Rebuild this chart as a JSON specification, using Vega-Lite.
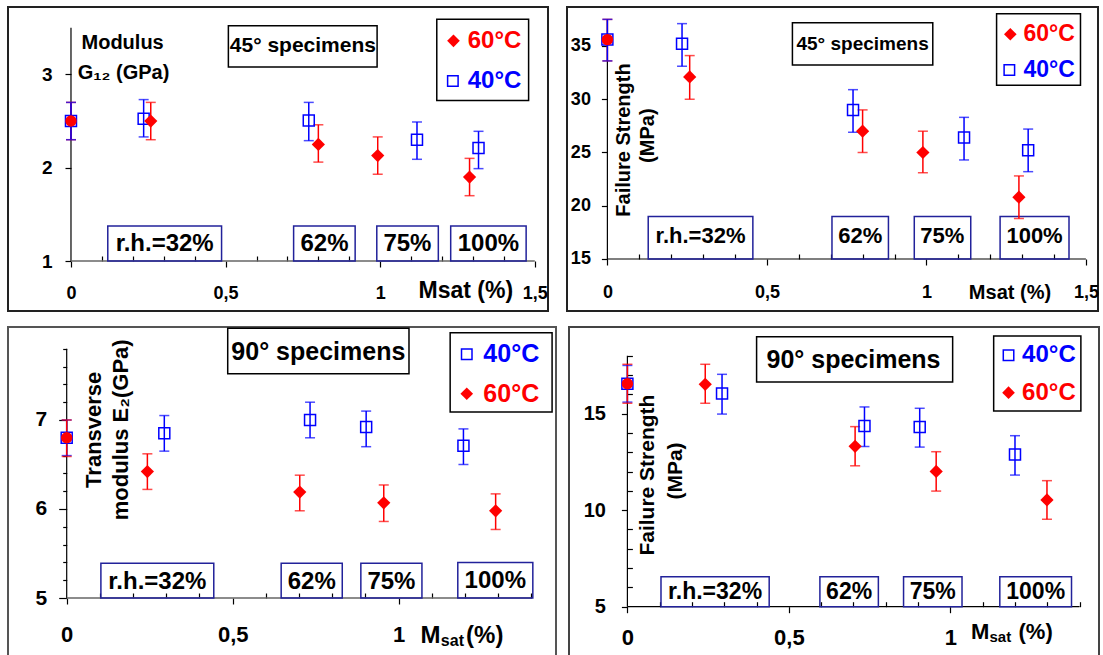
{
"$schema": "https://vega.github.io/schema/vega-lite/v6.json",
"background": "white",
"padding": {"left": 7, "top": 6, "right": 0, "bottom": 0},
"config": {
  "font": "Liberation Sans",
  "view": {"stroke": "#222", "strokeWidth": 2},
  "axis": {"grid": false, "domain": false, "labelFont": "Liberation Sans", "labelFontWeight": "bold", "labelColor": "#000", "tickColor": "#000", "tickWidth": 1.2, "labelFlush": false}
},
"datasets": {
  "tl": [
    {"msat": 0, "value": 2.5, "lo": 2.3, "hi": 2.7, "temp": "60°C"},
    {"msat": 0.258, "value": 2.5, "lo": 2.3, "hi": 2.7, "temp": "60°C"},
    {"msat": 0.8, "value": 2.25, "lo": 2.06, "hi": 2.46, "temp": "60°C"},
    {"msat": 0.992, "value": 2.13, "lo": 1.93, "hi": 2.33, "temp": "60°C"},
    {"msat": 1.289, "value": 1.9, "lo": 1.7, "hi": 2.1, "temp": "60°C"},
    {"msat": 0, "value": 2.5, "lo": 2.3, "hi": 2.7, "temp": "40°C"},
    {"msat": 0.235, "value": 2.525, "lo": 2.33, "hi": 2.73, "temp": "40°C"},
    {"msat": 0.769, "value": 2.507, "lo": 2.29, "hi": 2.7, "temp": "40°C"},
    {"msat": 1.119, "value": 2.3, "lo": 2.09, "hi": 2.49, "temp": "40°C"},
    {"msat": 1.318, "value": 2.21, "lo": 1.99, "hi": 2.39, "temp": "40°C"}
  ],
  "tr": [
    {"msat": 0, "value": 35.6, "lo": 33.6, "hi": 37.5, "temp": "60°C"},
    {"msat": 0.258, "value": 32.1, "lo": 30.0, "hi": 34.1, "temp": "60°C"},
    {"msat": 0.8, "value": 27.0, "lo": 25.0, "hi": 29.0, "temp": "60°C"},
    {"msat": 0.989, "value": 25.0, "lo": 23.1, "hi": 27.0, "temp": "60°C"},
    {"msat": 1.29, "value": 20.8, "lo": 18.8, "hi": 22.8, "temp": "60°C"},
    {"msat": 0, "value": 35.6, "lo": 33.6, "hi": 37.5, "temp": "40°C"},
    {"msat": 0.234, "value": 35.2, "lo": 33.1, "hi": 37.1, "temp": "40°C"},
    {"msat": 0.77, "value": 29.0, "lo": 26.9, "hi": 30.9, "temp": "40°C"},
    {"msat": 1.118, "value": 26.4, "lo": 24.3, "hi": 28.3, "temp": "40°C"},
    {"msat": 1.319, "value": 25.2, "lo": 23.2, "hi": 27.2, "temp": "40°C"}
  ],
  "bl": [
    {"msat": 0, "value": 6.8, "lo": 6.6, "hi": 7.0, "temp": "40°C"},
    {"msat": 0.294, "value": 6.85, "lo": 6.65, "hi": 7.05, "temp": "40°C"},
    {"msat": 0.733, "value": 7.0, "lo": 6.8, "hi": 7.2, "temp": "40°C"},
    {"msat": 0.902, "value": 6.92, "lo": 6.7, "hi": 7.1, "temp": "40°C"},
    {"msat": 1.195, "value": 6.71, "lo": 6.5, "hi": 6.9, "temp": "40°C"},
    {"msat": 0, "value": 6.8, "lo": 6.59, "hi": 7.0, "temp": "60°C"},
    {"msat": 0.243, "value": 6.42, "lo": 6.22, "hi": 6.62, "temp": "60°C"},
    {"msat": 0.702, "value": 6.19, "lo": 5.98, "hi": 6.38, "temp": "60°C"},
    {"msat": 0.955, "value": 6.07, "lo": 5.86, "hi": 6.27, "temp": "60°C"},
    {"msat": 1.292, "value": 5.98, "lo": 5.77, "hi": 6.17, "temp": "60°C"}
  ],
  "br": [
    {"msat": 0, "value": 16.55, "lo": 15.6, "hi": 17.5, "temp": "40°C"},
    {"msat": 0.293, "value": 16.04, "lo": 14.98, "hi": 17.04, "temp": "40°C"},
    {"msat": 0.734, "value": 14.36, "lo": 13.3, "hi": 15.35, "temp": "40°C"},
    {"msat": 0.905, "value": 14.31, "lo": 13.27, "hi": 15.28, "temp": "40°C"},
    {"msat": 1.2, "value": 12.88, "lo": 11.82, "hi": 13.86, "temp": "40°C"},
    {"msat": 0, "value": 16.55, "lo": 15.54, "hi": 17.56, "temp": "60°C"},
    {"msat": 0.241, "value": 16.52, "lo": 15.54, "hi": 17.56, "temp": "60°C"},
    {"msat": 0.705, "value": 13.31, "lo": 12.3, "hi": 14.33, "temp": "60°C"},
    {"msat": 0.956, "value": 12.01, "lo": 10.99, "hi": 13.03, "temp": "60°C"},
    {"msat": 1.299, "value": 10.53, "lo": 9.53, "hi": 11.53, "temp": "60°C"}
  ]
},
"spacing": 14,
"vconcat": [
{
"hconcat": [
{
  "width": 540, "height": 304,
  "data": {"name": "tl"},
  "resolve": {"axis": {"x": "independent", "y": "independent"}},
  "layer": [
    {"data": {"values": [{}]}, "layer": [
      {"mark": {"type": "rule", "color": "#000", "strokeWidth": 1.2}, "encoding": {"x": {"datum": 0, "axis": null}, "y": {"datum": 1, "axis": null}, "y2": {"datum": 3.5}}},
      {"mark": {"type": "rule", "color": "#666", "strokeWidth": 1.5}, "encoding": {"x": {"datum": 0}, "x2": {"datum": 1.5}, "y": {"datum": 1}}},
      {"mark": {"type": "rect", "fillOpacity": 0, "stroke": "#000", "strokeWidth": 1.5}, "encoding": {"x": {"datum": 0.509}, "x2": {"datum": 0.99}, "y": {"datum": 3.079}, "y2": {"datum": 3.522}}},
      {"mark": {"type": "text", "text": "45° specimens", "fontSize": 21, "fontWeight": "bold", "color": "#000", "align": "center", "baseline": "middle"}, "encoding": {"x": {"datum": 0.75}, "y": {"datum": 3.3}}},
      {"mark": {"type": "rect", "fillOpacity": 0, "stroke": "#000", "strokeWidth": 1.5}, "encoding": {"x": {"datum": 1.183}, "x2": {"datum": 1.48}, "y": {"datum": 2.72}, "y2": {"datum": 3.59}}},
      {"mark": {"type": "point", "shape": "diamond", "filled": true, "color": "#ff0000", "size": 160, "opacity": 1}, "encoding": {"x": {"datum": 1.237}, "y": {"datum": 3.36}}},
      {"mark": {"type": "text", "text": "60°C", "fontSize": 24, "fontWeight": "bold", "color": "#ff0000", "align": "left", "baseline": "middle"}, "encoding": {"x": {"datum": 1.283}, "y": {"datum": 3.36}}},
      {"mark": {"type": "point", "shape": "square", "filled": false, "color": "#0000ff", "size": 110, "strokeWidth": 1.5, "opacity": 1}, "encoding": {"x": {"datum": 1.235}, "y": {"datum": 2.93}}},
      {"mark": {"type": "text", "text": "40°C", "fontSize": 24, "fontWeight": "bold", "color": "#0000ff", "align": "left", "baseline": "middle"}, "encoding": {"x": {"datum": 1.283}, "y": {"datum": 2.93}}},
      {"mark": {"type": "rect", "fillOpacity": 0, "stroke": "#22229a", "strokeWidth": 1.5}, "encoding": {"x": {"datum": 0.119}, "x2": {"datum": 0.487}, "y": {"datum": 1}, "y2": {"datum": 1.375}}},
      {"mark": {"type": "rect", "fillOpacity": 0, "stroke": "#22229a", "strokeWidth": 1.5}, "encoding": {"x": {"datum": 0.72}, "x2": {"datum": 0.919}, "y": {"datum": 1}, "y2": {"datum": 1.375}}},
      {"mark": {"type": "rect", "fillOpacity": 0, "stroke": "#22229a", "strokeWidth": 1.5}, "encoding": {"x": {"datum": 0.989}, "x2": {"datum": 1.188}, "y": {"datum": 1}, "y2": {"datum": 1.375}}},
      {"mark": {"type": "rect", "fillOpacity": 0, "stroke": "#22229a", "strokeWidth": 1.5}, "encoding": {"x": {"datum": 1.228}, "x2": {"datum": 1.472}, "y": {"datum": 1}, "y2": {"datum": 1.375}}},
      {"mark": {"type": "text", "text": "r.h.=32%", "fontSize": 24, "fontWeight": "bold", "color": "#000", "align": "center", "baseline": "middle"}, "encoding": {"x": {"datum": 0.303}, "y": {"datum": 1.18}}},
      {"mark": {"type": "text", "text": "62%", "fontSize": 24, "fontWeight": "bold", "color": "#000", "align": "center", "baseline": "middle"}, "encoding": {"x": {"datum": 0.82}, "y": {"datum": 1.18}}},
      {"mark": {"type": "text", "text": "75%", "fontSize": 24, "fontWeight": "bold", "color": "#000", "align": "center", "baseline": "middle"}, "encoding": {"x": {"datum": 1.088}, "y": {"datum": 1.18}}},
      {"mark": {"type": "text", "text": "100%", "fontSize": 24, "fontWeight": "bold", "color": "#000", "align": "center", "baseline": "middle"}, "encoding": {"x": {"datum": 1.35}, "y": {"datum": 1.18}}},
      {"mark": {"type": "text", "text": "Modulus", "fontSize": 20, "fontWeight": "bold", "color": "#000", "align": "center", "baseline": "middle"}, "encoding": {"x": {"datum": 0.167}, "y": {"datum": 3.337}}},
      {"mark": {"type": "text", "text": "G₁₂ (GPa)", "fontSize": 20, "fontWeight": "bold", "color": "#000", "align": "center", "baseline": "middle"}, "encoding": {"x": {"datum": 0.17}, "y": {"datum": 3.02}}},
      {"mark": {"type": "text", "text": "Msat (%)", "fontSize": 23, "fontWeight": "bold", "color": "#000", "align": "center", "baseline": "middle"}, "encoding": {"x": {"datum": 1.277}, "y": {"datum": 0.678}}}
    ]},
    {"mark": {"type": "rule", "strokeWidth": 1.5},
     "encoding": {
       "x": {"field": "msat", "type": "quantitative", "scale": {"domain": [-0.2037, 1.5427], "nice": false, "zero": false},
             "axis": {"orient": "bottom", "values": [0, 0.5, 1, 1.5], "labelExpr": "datum.value == 0 ? '0' : datum.value == 0.5 ? '0,5' : datum.value == 1 ? '1' : '1,5'", "offset": -50, "tickSize": 6, "labelPadding": 17, "labelFontSize": 18, "title": null}},
       "y": {"field": "lo", "type": "quantitative", "scale": {"domain": [0.4641, 3.7224], "nice": false, "zero": false},
             "axis": {"orient": "left", "values": [1,2,3], "offset": -63, "tickSize": 6, "labelPadding": 13, "labelFontSize": 19, "title": null}},
       "y2": {"field": "hi"},
       "color": {"field": "temp", "type": "nominal", "scale": {"domain": ["40°C", "60°C"], "range": ["#0000ff", "#ff0000"]}, "legend": null}
     }},
    {"mark": {"type": "tick", "orient": "horizontal", "size": 10, "thickness": 1.5},
     "encoding": {"x": {"field": "msat", "type": "quantitative", "axis": null}, "y": {"field": "lo", "type": "quantitative", "axis": null}, "color": {"field": "temp", "type": "nominal", "legend": null}}},
    {"mark": {"type": "tick", "orient": "horizontal", "size": 10, "thickness": 1.5},
     "encoding": {"x": {"field": "msat", "type": "quantitative", "axis": null}, "y": {"field": "hi", "type": "quantitative", "axis": null}, "color": {"field": "temp", "type": "nominal", "legend": null}}},
    {"transform": [{"filter": "datum.temp == '40°C'"}],
     "mark": {"type": "point", "shape": "square", "filled": false, "color": "#0000ff", "size": 121, "strokeWidth": 1.5, "opacity": 1},
     "encoding": {"x": {"field": "msat", "type": "quantitative", "axis": {"orient": "bottom", "values": [0.1,0.2,0.3,0.4,0.6,0.7,0.8,0.9,1.1,1.2,1.3,1.4], "labels": false, "offset": -50, "tickSize": -5, "title": null}},
                  "y": {"field": "value", "type": "quantitative", "axis": null}}},
    {"transform": [{"filter": "datum.temp == '60°C'"}],
     "mark": {"type": "point", "filled": true, "color": "#ff0000", "opacity": 1},
     "encoding": {"x": {"field": "msat", "type": "quantitative", "axis": null}, "y": {"field": "value", "type": "quantitative", "axis": null},
       "shape": {"condition": {"test": "datum.msat == 0", "value": "circle"}, "value": "diamond"},
       "size": {"condition": {"test": "datum.msat == 0", "value": 130}, "value": 175}}}
  ]
},
{
  "width": 531, "height": 304,
  "data": {"name": "tr"},
  "resolve": {"axis": {"x": "independent", "y": "independent"}},
  "layer": [
    {"data": {"values": [{}]}, "layer": [
      {"mark": {"type": "rule", "color": "#000", "strokeWidth": 1.2}, "encoding": {"x": {"datum": 0, "axis": null}, "y": {"datum": 15, "axis": null}, "y2": {"datum": 37.5}}},
      {"mark": {"type": "rule", "color": "#000", "strokeWidth": 1.2}, "encoding": {"x": {"datum": 0}, "x2": {"datum": 1.5}, "y": {"datum": 15}}},
      {"mark": {"type": "rect", "fillOpacity": 0, "stroke": "#000", "strokeWidth": 1.5}, "encoding": {"x": {"datum": 0.58}, "x2": {"datum": 1.02}, "y": {"datum": 33.22}, "y2": {"datum": 37.19}}},
      {"mark": {"type": "text", "text": "45° specimens", "fontSize": 19, "fontWeight": "bold", "color": "#000", "align": "center", "baseline": "middle"}, "encoding": {"x": {"datum": 0.8}, "y": {"datum": 35.2}}},
      {"mark": {"type": "rect", "fillOpacity": 0, "stroke": "#000", "strokeWidth": 1.5}, "encoding": {"x": {"datum": 1.22}, "x2": {"datum": 1.483}, "y": {"datum": 31.31}, "y2": {"datum": 38.03}}},
      {"mark": {"type": "point", "shape": "diamond", "filled": true, "color": "#ff0000", "size": 160, "opacity": 1}, "encoding": {"x": {"datum": 1.263}, "y": {"datum": 36.1}}},
      {"mark": {"type": "text", "text": "60°C", "fontSize": 23, "fontWeight": "bold", "color": "#ff0000", "align": "left", "baseline": "middle"}, "encoding": {"x": {"datum": 1.304}, "y": {"datum": 36.1}}},
      {"mark": {"type": "point", "shape": "square", "filled": false, "color": "#0000ff", "size": 110, "strokeWidth": 1.5, "opacity": 1}, "encoding": {"x": {"datum": 1.26}, "y": {"datum": 32.75}}},
      {"mark": {"type": "text", "text": "40°C", "fontSize": 23, "fontWeight": "bold", "color": "#0000ff", "align": "left", "baseline": "middle"}, "encoding": {"x": {"datum": 1.304}, "y": {"datum": 32.75}}},
      {"mark": {"type": "rect", "fillOpacity": 0, "stroke": "#22229a", "strokeWidth": 1.5}, "encoding": {"x": {"datum": 0.128}, "x2": {"datum": 0.456}, "y": {"datum": 15}, "y2": {"datum": 19}}},
      {"mark": {"type": "rect", "fillOpacity": 0, "stroke": "#22229a", "strokeWidth": 1.5}, "encoding": {"x": {"datum": 0.704}, "x2": {"datum": 0.881}, "y": {"datum": 15}, "y2": {"datum": 19}}},
      {"mark": {"type": "rect", "fillOpacity": 0, "stroke": "#22229a", "strokeWidth": 1.5}, "encoding": {"x": {"datum": 0.962}, "x2": {"datum": 1.139}, "y": {"datum": 15}, "y2": {"datum": 19}}},
      {"mark": {"type": "rect", "fillOpacity": 0, "stroke": "#22229a", "strokeWidth": 1.5}, "encoding": {"x": {"datum": 1.231}, "x2": {"datum": 1.447}, "y": {"datum": 15}, "y2": {"datum": 19}}},
      {"mark": {"type": "text", "text": "r.h.=32%", "fontSize": 22, "fontWeight": "bold", "color": "#000", "align": "center", "baseline": "middle"}, "encoding": {"x": {"datum": 0.292}, "y": {"datum": 17.2}}},
      {"mark": {"type": "text", "text": "62%", "fontSize": 22, "fontWeight": "bold", "color": "#000", "align": "center", "baseline": "middle"}, "encoding": {"x": {"datum": 0.7925}, "y": {"datum": 17.2}}},
      {"mark": {"type": "text", "text": "75%", "fontSize": 22, "fontWeight": "bold", "color": "#000", "align": "center", "baseline": "middle"}, "encoding": {"x": {"datum": 1.05}, "y": {"datum": 17.2}}},
      {"mark": {"type": "text", "text": "100%", "fontSize": 22, "fontWeight": "bold", "color": "#000", "align": "center", "baseline": "middle"}, "encoding": {"x": {"datum": 1.339}, "y": {"datum": 17.2}}},
      {"mark": {"type": "text", "text": "Failure Strength", "angle": 270, "fontSize": 20, "fontWeight": "bold", "color": "#000", "align": "center", "baseline": "middle"}, "encoding": {"x": {"datum": 0.052}, "y": {"datum": 26.17}}},
      {"mark": {"type": "text", "text": "(MPa)", "angle": 270, "fontSize": 20, "fontWeight": "bold", "color": "#000", "align": "center", "baseline": "middle"}, "encoding": {"x": {"datum": 0.126}, "y": {"datum": 26.58}}},
      {"mark": {"type": "text", "text": "Msat (%)", "fontSize": 20, "fontWeight": "bold", "color": "#000", "align": "center", "baseline": "middle"}, "encoding": {"x": {"datum": 1.262}, "y": {"datum": 11.8}}}
    ]},
    {"mark": {"type": "rule", "strokeWidth": 1.5},
     "encoding": {
       "x": {"field": "msat", "type": "quantitative", "scale": {"domain": [-0.1266, 1.5379], "nice": false, "zero": false},
             "axis": {"orient": "bottom", "values": [0, 0.5, 1, 1.5], "labelExpr": "datum.value == 0 ? '0' : datum.value == 0.5 ? '0,5' : datum.value == 1 ? '1' : '1,5'", "offset": -52, "tickSize": 6, "labelPadding": 18, "labelFontSize": 18, "title": null}},
       "y": {"field": "lo", "type": "quantitative", "scale": {"domain": [10.117, 38.662], "nice": false, "zero": false},
             "axis": {"orient": "left", "values": [15,20,25,30,35], "offset": -40.4, "tickSize": 6, "labelPadding": 11, "labelFontSize": 18, "title": null}},
       "y2": {"field": "hi"},
       "color": {"field": "temp", "type": "nominal", "scale": {"domain": ["40°C", "60°C"], "range": ["#0000ff", "#ff0000"]}, "legend": null}
     }},
    {"mark": {"type": "tick", "orient": "horizontal", "size": 10, "thickness": 1.5},
     "encoding": {"x": {"field": "msat", "type": "quantitative", "axis": null}, "y": {"field": "lo", "type": "quantitative", "axis": null}, "color": {"field": "temp", "type": "nominal", "legend": null}}},
    {"mark": {"type": "tick", "orient": "horizontal", "size": 10, "thickness": 1.5},
     "encoding": {"x": {"field": "msat", "type": "quantitative", "axis": null}, "y": {"field": "hi", "type": "quantitative", "axis": null}, "color": {"field": "temp", "type": "nominal", "legend": null}}},
    {"transform": [{"filter": "datum.temp == '40°C'"}],
     "mark": {"type": "point", "shape": "square", "filled": false, "color": "#0000ff", "size": 121, "strokeWidth": 1.5, "opacity": 1},
     "encoding": {"x": {"field": "msat", "type": "quantitative", "axis": {"orient": "bottom", "values": [0.1,0.2,0.3,0.4,0.6,0.7,0.8,0.9,1.1,1.2,1.3,1.4], "labels": false, "offset": -52, "tickSize": -5, "title": null}},
                  "y": {"field": "value", "type": "quantitative", "axis": null}}},
    {"transform": [{"filter": "datum.temp == '60°C'"}],
     "mark": {"type": "point", "filled": true, "color": "#ff0000", "opacity": 1},
     "encoding": {"x": {"field": "msat", "type": "quantitative", "axis": null}, "y": {"field": "value", "type": "quantitative", "axis": null},
       "shape": {"condition": {"test": "datum.msat == 0", "value": "circle"}, "value": "diamond"},
       "size": {"condition": {"test": "datum.msat == 0", "value": 130}, "value": 175}}}
  ]
}
],
"spacing": 19,
"bounds": "flush"
},
{
"hconcat": [
{
  "width": 548, "height": 341,
  "view": {"stroke": "#555", "strokeWidth": 2},
  "data": {"name": "bl"},
  "resolve": {"axis": {"x": "independent", "y": "independent"}},
  "layer": [
    {"data": {"values": [{}]}, "layer": [
      {"mark": {"type": "rule", "color": "#000", "strokeWidth": 1.2}, "encoding": {"x": {"datum": 0, "axis": null}, "y": {"datum": 5, "axis": null}, "y2": {"datum": 7.8}}},
      {"mark": {"type": "rule", "color": "#666", "strokeWidth": 1.5}, "encoding": {"x": {"datum": 0}, "x2": {"datum": 1.4}, "y": {"datum": 5}}},
      {"mark": {"type": "rect", "fillOpacity": 0, "stroke": "#000", "strokeWidth": 1.5}, "encoding": {"x": {"datum": 0.485}, "x2": {"datum": 1.031}, "y": {"datum": 7.52}, "y2": {"datum": 8.03}}},
      {"mark": {"type": "text", "text": "90° specimens", "fontSize": 25, "fontWeight": "bold", "color": "#000", "align": "center", "baseline": "middle"}, "encoding": {"x": {"datum": 0.758}, "y": {"datum": 7.767}}},
      {"mark": {"type": "rect", "fillOpacity": 0, "stroke": "#000", "strokeWidth": 1.5}, "encoding": {"x": {"datum": 1.155}, "x2": {"datum": 1.462}, "y": {"datum": 7.09}, "y2": {"datum": 7.98}}},
      {"mark": {"type": "point", "shape": "square", "filled": false, "color": "#0000ff", "size": 110, "strokeWidth": 1.5, "opacity": 1}, "encoding": {"x": {"datum": 1.205}, "y": {"datum": 7.74}}},
      {"mark": {"type": "text", "text": "40°C", "fontSize": 25, "fontWeight": "bold", "color": "#0000ff", "align": "left", "baseline": "middle"}, "encoding": {"x": {"datum": 1.255}, "y": {"datum": 7.74}}},
      {"mark": {"type": "point", "shape": "diamond", "filled": true, "color": "#ff0000", "size": 160, "opacity": 1}, "encoding": {"x": {"datum": 1.205}, "y": {"datum": 7.295}}},
      {"mark": {"type": "text", "text": "60°C", "fontSize": 25, "fontWeight": "bold", "color": "#ff0000", "align": "left", "baseline": "middle"}, "encoding": {"x": {"datum": 1.255}, "y": {"datum": 7.295}}},
      {"mark": {"type": "rect", "fillOpacity": 0, "stroke": "#22229a", "strokeWidth": 1.5}, "encoding": {"x": {"datum": 0.103}, "x2": {"datum": 0.443}, "y": {"datum": 5}, "y2": {"datum": 5.39}}},
      {"mark": {"type": "rect", "fillOpacity": 0, "stroke": "#22229a", "strokeWidth": 1.5}, "encoding": {"x": {"datum": 0.646}, "x2": {"datum": 0.83}, "y": {"datum": 5}, "y2": {"datum": 5.39}}},
      {"mark": {"type": "rect", "fillOpacity": 0, "stroke": "#22229a", "strokeWidth": 1.5}, "encoding": {"x": {"datum": 0.886}, "x2": {"datum": 1.07}, "y": {"datum": 5}, "y2": {"datum": 5.39}}},
      {"mark": {"type": "rect", "fillOpacity": 0, "stroke": "#22229a", "strokeWidth": 1.5}, "encoding": {"x": {"datum": 1.178}, "x2": {"datum": 1.404}, "y": {"datum": 5}, "y2": {"datum": 5.4}}},
      {"mark": {"type": "text", "text": "r.h.=32%", "fontSize": 24, "fontWeight": "bold", "color": "#000", "align": "center", "baseline": "middle"}, "encoding": {"x": {"datum": 0.273}, "y": {"datum": 5.18}}},
      {"mark": {"type": "text", "text": "62%", "fontSize": 24, "fontWeight": "bold", "color": "#000", "align": "center", "baseline": "middle"}, "encoding": {"x": {"datum": 0.738}, "y": {"datum": 5.18}}},
      {"mark": {"type": "text", "text": "75%", "fontSize": 24, "fontWeight": "bold", "color": "#000", "align": "center", "baseline": "middle"}, "encoding": {"x": {"datum": 0.978}, "y": {"datum": 5.18}}},
      {"mark": {"type": "text", "text": "100%", "fontSize": 24, "fontWeight": "bold", "color": "#000", "align": "center", "baseline": "middle"}, "encoding": {"x": {"datum": 1.291}, "y": {"datum": 5.19}}},
      {"mark": {"type": "text", "text": "Transverse", "angle": 270, "fontSize": 22, "fontWeight": "bold", "color": "#000", "align": "center", "baseline": "middle"}, "encoding": {"x": {"datum": 0.082}, "y": {"datum": 6.89}}},
      {"mark": {"type": "text", "text": "modulus E₂(GPa)", "angle": 270, "fontSize": 22, "fontWeight": "bold", "color": "#000", "align": "center", "baseline": "middle"}, "encoding": {"x": {"datum": 0.164}, "y": {"datum": 6.89}}},
      {"mark": {"type": "text", "text": "M", "fontSize": 24, "fontWeight": "bold", "color": "#000", "align": "left", "baseline": "alphabetic"}, "encoding": {"x": {"datum": 1.066}, "y": {"datum": 4.498}}},
      {"mark": {"type": "text", "text": "sat", "fontSize": 16, "fontWeight": "bold", "color": "#000", "align": "left", "baseline": "alphabetic"}, "encoding": {"x": {"datum": 1.127}, "y": {"datum": 4.46}}},
      {"mark": {"type": "text", "text": "(%)", "fontSize": 24, "fontWeight": "bold", "color": "#000", "align": "left", "baseline": "alphabetic"}, "encoding": {"x": {"datum": 1.203}, "y": {"datum": 4.498}}}
    ]},
    {"mark": {"type": "rule", "strokeWidth": 1.5},
     "encoding": {
       "x": {"field": "msat", "type": "quantitative", "scale": {"domain": [-0.1768, 1.4738], "nice": false, "zero": false},
             "axis": {"orient": "bottom", "values": [0, 0.5, 1], "labelExpr": "datum.value == 0 ? '0' : datum.value == 0.5 ? '0,5' : '1'", "offset": -70, "tickSize": 6, "labelPadding": 20, "labelFontSize": 22, "title": null}},
       "y": {"field": "lo", "type": "quantitative", "scale": {"domain": [4.2135, 8.0449], "nice": false, "zero": false},
             "axis": {"orient": "left", "values": [5,6,7], "labelExpr": "datum.value == 5 ? '5' : datum.value == 6 ? '6' : '7'", "offset": -58.7, "tickSize": 8, "labelPadding": 12, "labelFontSize": 21, "title": null}},
       "y2": {"field": "hi"},
       "color": {"field": "temp", "type": "nominal", "scale": {"domain": ["40°C", "60°C"], "range": ["#0000ff", "#ff0000"]}, "legend": null}
     }},
    {"mark": {"type": "tick", "orient": "horizontal", "size": 10, "thickness": 1.5},
     "encoding": {"x": {"field": "msat", "type": "quantitative", "axis": null}, "y": {"field": "lo", "type": "quantitative", "axis": null}, "color": {"field": "temp", "type": "nominal", "legend": null}}},
    {"mark": {"type": "tick", "orient": "horizontal", "size": 10, "thickness": 1.5},
     "encoding": {"x": {"field": "msat", "type": "quantitative", "axis": null}, "y": {"field": "hi", "type": "quantitative", "axis": null}, "color": {"field": "temp", "type": "nominal", "legend": null}}},
    {"transform": [{"filter": "datum.temp == '40°C'"}],
     "mark": {"type": "point", "shape": "square", "filled": false, "color": "#0000ff", "size": 121, "strokeWidth": 1.5, "opacity": 1},
     "encoding": {"x": {"field": "msat", "type": "quantitative", "axis": {"orient": "bottom", "values": [0.1,0.2,0.3,0.4,0.6,0.7,0.8,0.9,1.1,1.2,1.3,1.4], "labels": false, "offset": -70, "tickSize": -5, "title": null}},
                  "y": {"field": "value", "type": "quantitative", "axis": {"orient": "left", "values": [5.2,5.4,5.6,5.8,6.2,6.4,6.6,6.8,7.2,7.4,7.6,7.8], "labels": false, "offset": -58.7, "tickSize": 4, "title": null}}}},
    {"transform": [{"filter": "datum.temp == '60°C'"}],
     "mark": {"type": "point", "filled": true, "color": "#ff0000", "opacity": 1},
     "encoding": {"x": {"field": "msat", "type": "quantitative", "axis": null}, "y": {"field": "value", "type": "quantitative", "axis": null},
       "shape": {"condition": {"test": "datum.msat == 0", "value": "circle"}, "value": "diamond"},
       "size": {"condition": {"test": "datum.msat == 0", "value": 130}, "value": 175}}}
  ]
},
{
  "width": 530, "height": 341,
  "view": {"stroke": "#444", "strokeWidth": 2},
  "data": {"name": "br"},
  "resolve": {"axis": {"x": "independent", "y": "independent"}},
  "layer": [
    {"data": {"values": [{}]}, "layer": [
      {"mark": {"type": "rule", "color": "#000", "strokeWidth": 1.2}, "encoding": {"x": {"datum": 0, "axis": null}, "y": {"datum": 5, "axis": null}, "y2": {"datum": 18}}},
      {"mark": {"type": "rule", "color": "#000", "strokeWidth": 1.2}, "encoding": {"x": {"datum": 0}, "x2": {"datum": 1.4}, "y": {"datum": 5}}},
      {"mark": {"type": "rect", "fillOpacity": 0, "stroke": "#000", "strokeWidth": 1.5}, "encoding": {"x": {"datum": 0.4}, "x2": {"datum": 1.007}, "y": {"datum": 16.64}, "y2": {"datum": 18.99}}},
      {"mark": {"type": "text", "text": "90° specimens", "fontSize": 25, "fontWeight": "bold", "color": "#000", "align": "center", "baseline": "middle"}, "encoding": {"x": {"datum": 0.7}, "y": {"datum": 17.8}}},
      {"mark": {"type": "rect", "fillOpacity": 0, "stroke": "#000", "strokeWidth": 1.5}, "encoding": {"x": {"datum": 1.134}, "x2": {"datum": 1.404}, "y": {"datum": 15.14}, "y2": {"datum": 19.03}}},
      {"mark": {"type": "point", "shape": "square", "filled": false, "color": "#0000ff", "size": 110, "strokeWidth": 1.5, "opacity": 1}, "encoding": {"x": {"datum": 1.18}, "y": {"datum": 18.03}}},
      {"mark": {"type": "text", "text": "40°C", "fontSize": 24, "fontWeight": "bold", "color": "#0000ff", "align": "left", "baseline": "middle"}, "encoding": {"x": {"datum": 1.222}, "y": {"datum": 18.03}}},
      {"mark": {"type": "point", "shape": "diamond", "filled": true, "color": "#ff0000", "size": 160, "opacity": 1}, "encoding": {"x": {"datum": 1.18}, "y": {"datum": 16.09}}},
      {"mark": {"type": "text", "text": "60°C", "fontSize": 24, "fontWeight": "bold", "color": "#ff0000", "align": "left", "baseline": "middle"}, "encoding": {"x": {"datum": 1.222}, "y": {"datum": 16.09}}},
      {"mark": {"type": "rect", "fillOpacity": 0, "stroke": "#22229a", "strokeWidth": 1.5}, "encoding": {"x": {"datum": 0.104}, "x2": {"datum": 0.439}, "y": {"datum": 5}, "y2": {"datum": 6.55}}},
      {"mark": {"type": "rect", "fillOpacity": 0, "stroke": "#22229a", "strokeWidth": 1.5}, "encoding": {"x": {"datum": 0.596}, "x2": {"datum": 0.777}, "y": {"datum": 5}, "y2": {"datum": 6.55}}},
      {"mark": {"type": "rect", "fillOpacity": 0, "stroke": "#22229a", "strokeWidth": 1.5}, "encoding": {"x": {"datum": 0.855}, "x2": {"datum": 1.036}, "y": {"datum": 5}, "y2": {"datum": 6.55}}},
      {"mark": {"type": "rect", "fillOpacity": 0, "stroke": "#22229a", "strokeWidth": 1.5}, "encoding": {"x": {"datum": 1.153}, "x2": {"datum": 1.375}, "y": {"datum": 5}, "y2": {"datum": 6.55}}},
      {"mark": {"type": "text", "text": "r.h.=32%", "fontSize": 23, "fontWeight": "bold", "color": "#000", "align": "center", "baseline": "middle"}, "encoding": {"x": {"datum": 0.2715}, "y": {"datum": 5.78}}},
      {"mark": {"type": "text", "text": "62%", "fontSize": 23, "fontWeight": "bold", "color": "#000", "align": "center", "baseline": "middle"}, "encoding": {"x": {"datum": 0.6865}, "y": {"datum": 5.78}}},
      {"mark": {"type": "text", "text": "75%", "fontSize": 23, "fontWeight": "bold", "color": "#000", "align": "center", "baseline": "middle"}, "encoding": {"x": {"datum": 0.9455}, "y": {"datum": 5.78}}},
      {"mark": {"type": "text", "text": "100%", "fontSize": 23, "fontWeight": "bold", "color": "#000", "align": "center", "baseline": "middle"}, "encoding": {"x": {"datum": 1.264}, "y": {"datum": 5.78}}},
      {"mark": {"type": "text", "text": "Failure Strength", "angle": 270, "fontSize": 21, "fontWeight": "bold", "color": "#000", "align": "center", "baseline": "middle"}, "encoding": {"x": {"datum": 0.064}, "y": {"datum": 11.82}}},
      {"mark": {"type": "text", "text": "(MPa)", "angle": 270, "fontSize": 21, "fontWeight": "bold", "color": "#000", "align": "center", "baseline": "middle"}, "encoding": {"x": {"datum": 0.152}, "y": {"datum": 12.03}}},
      {"mark": {"type": "text", "text": "M", "fontSize": 22, "fontWeight": "bold", "color": "#000", "align": "left", "baseline": "alphabetic"}, "encoding": {"x": {"datum": 1.064}, "y": {"datum": 3.33}}},
      {"mark": {"type": "text", "text": "sat", "fontSize": 15, "fontWeight": "bold", "color": "#000", "align": "left", "baseline": "alphabetic"}, "encoding": {"x": {"datum": 1.121}, "y": {"datum": 3.19}}},
      {"mark": {"type": "text", "text": "(%)", "fontSize": 22, "fontWeight": "bold", "color": "#000", "align": "left", "baseline": "alphabetic"}, "encoding": {"x": {"datum": 1.211}, "y": {"datum": 3.33}}}
    ]},
    {"mark": {"type": "rule", "strokeWidth": 1.5},
     "encoding": {
       "x": {"field": "msat", "type": "quantitative", "scale": {"domain": [-0.1808, 1.4601], "nice": false, "zero": false},
             "axis": {"orient": "bottom", "values": [0, 0.5, 1], "labelExpr": "datum.value == 0 ? '0' : datum.value == 0.5 ? '0,5' : '1'", "offset": -61.3, "tickSize": 6, "labelPadding": 15, "labelFontSize": 22, "title": null}},
       "y": {"field": "lo", "type": "quantitative", "scale": {"domain": [1.8238, 19.492], "nice": false, "zero": false},
             "axis": {"orient": "left", "values": [5,10,15], "labelExpr": "datum.value == 5 ? '5' : datum.value == 10 ? '10' : '15'", "offset": -58.4, "tickSize": 6, "labelPadding": 16, "labelFontSize": 20, "title": null}},
       "y2": {"field": "hi"},
       "color": {"field": "temp", "type": "nominal", "scale": {"domain": ["40°C", "60°C"], "range": ["#0000ff", "#ff0000"]}, "legend": null}
     }},
    {"mark": {"type": "tick", "orient": "horizontal", "size": 10, "thickness": 1.5},
     "encoding": {"x": {"field": "msat", "type": "quantitative", "axis": null}, "y": {"field": "lo", "type": "quantitative", "axis": null}, "color": {"field": "temp", "type": "nominal", "legend": null}}},
    {"mark": {"type": "tick", "orient": "horizontal", "size": 10, "thickness": 1.5},
     "encoding": {"x": {"field": "msat", "type": "quantitative", "axis": null}, "y": {"field": "hi", "type": "quantitative", "axis": null}, "color": {"field": "temp", "type": "nominal", "legend": null}}},
    {"transform": [{"filter": "datum.temp == '40°C'"}],
     "mark": {"type": "point", "shape": "square", "filled": false, "color": "#0000ff", "size": 121, "strokeWidth": 1.5, "opacity": 1},
     "encoding": {"x": {"field": "msat", "type": "quantitative", "axis": {"orient": "bottom", "values": [0.1,0.2,0.3,0.4,0.6,0.7,0.8,0.9,1.1,1.2,1.3,1.4], "labels": false, "offset": -61.3, "tickSize": -5, "title": null}},
                  "y": {"field": "value", "type": "quantitative", "axis": {"orient": "left", "values": [6,7,8,9,11,12,13,14,16,17,18], "labels": false, "offset": -58.4, "tickSize": -5, "title": null}}}},
    {"transform": [{"filter": "datum.temp == '60°C'"}],
     "mark": {"type": "point", "filled": true, "color": "#ff0000", "opacity": 1},
     "encoding": {"x": {"field": "msat", "type": "quantitative", "axis": null}, "y": {"field": "value", "type": "quantitative", "axis": null},
       "shape": {"condition": {"test": "datum.msat == 0", "value": "circle"}, "value": "diamond"},
       "size": {"condition": {"test": "datum.msat == 0", "value": 130}, "value": 175}}}
  ]
}
],
"spacing": 13,
"bounds": "flush"
}
]
}
